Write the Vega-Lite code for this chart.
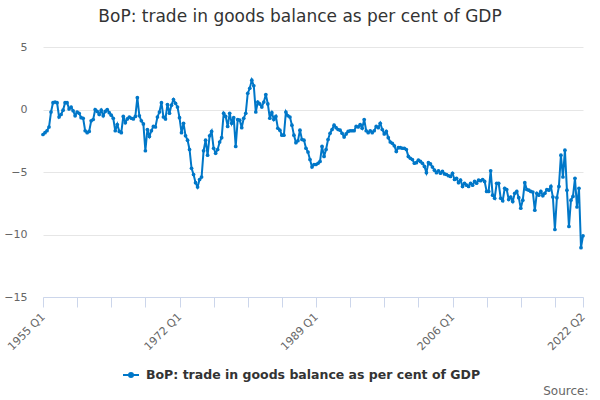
{
  "$schema": "https://vega.github.io/schema/vega-lite/v6.json",
  "width": 540,
  "height": 250,
  "autosize": {"type": "none"},
  "padding": {"left": 43, "top": 47, "right": 17, "bottom": 103},
  "background": "white",
  "config": {"font": "DejaVu Sans", "view": {"stroke": null}},
  "title": {"text": "BoP: trade in goods balance as per cent of GDP", "fontSize": 17, "fontWeight": "normal", "color": "#333333", "anchor": "middle", "dx": -13, "offset": 15},
  "data": {"values": [
    {"p":"1955 Q1","v":-2.0},{"p":"1955 Q2","v":-1.85},{"p":"1955 Q3","v":-1.7},{"p":"1955 Q4","v":-1.4},
    {"p":"1956 Q1","v":-0.2},{"p":"1956 Q2","v":0.55},{"p":"1956 Q3","v":0.6},{"p":"1956 Q4","v":0.55},
    {"p":"1957 Q1","v":-0.6},{"p":"1957 Q2","v":-0.4},{"p":"1957 Q3","v":-0.05},{"p":"1957 Q4","v":0.55},
    {"p":"1958 Q1","v":0.55},{"p":"1958 Q2","v":0.05},{"p":"1958 Q3","v":0.2},{"p":"1958 Q4","v":-0.1},
    {"p":"1959 Q1","v":-0.5},{"p":"1959 Q2","v":-0.2},{"p":"1959 Q3","v":-0.3},{"p":"1959 Q4","v":-0.65},
    {"p":"1960 Q1","v":-0.7},{"p":"1960 Q2","v":-1.7},{"p":"1960 Q3","v":-1.85},{"p":"1960 Q4","v":-1.75},
    {"p":"1961 Q1","v":-0.9},{"p":"1961 Q2","v":-0.8},{"p":"1961 Q3","v":0.0},{"p":"1961 Q4","v":-0.15},
    {"p":"1962 Q1","v":-0.4},{"p":"1962 Q2","v":-0.05},{"p":"1962 Q3","v":-0.5},{"p":"1962 Q4","v":-0.15},
    {"p":"1963 Q1","v":0.0},{"p":"1963 Q2","v":-0.25},{"p":"1963 Q3","v":-0.45},{"p":"1963 Q4","v":-0.7},
    {"p":"1964 Q1","v":-1.7},{"p":"1964 Q2","v":-1.2},{"p":"1964 Q3","v":-1.75},{"p":"1964 Q4","v":-1.85},
    {"p":"1965 Q1","v":-0.55},{"p":"1965 Q2","v":-1.05},{"p":"1965 Q3","v":-0.75},{"p":"1965 Q4","v":-0.6},
    {"p":"1966 Q1","v":-0.7},{"p":"1966 Q2","v":-0.75},{"p":"1966 Q3","v":-0.55},{"p":"1966 Q4","v":0.95},
    {"p":"1967 Q1","v":-0.5},{"p":"1967 Q2","v":-0.9},{"p":"1967 Q3","v":-1.15},{"p":"1967 Q4","v":-3.3},
    {"p":"1968 Q1","v":-1.6},{"p":"1968 Q2","v":-2.15},{"p":"1968 Q3","v":-1.7},{"p":"1968 Q4","v":-1.35},
    {"p":"1969 Q1","v":-1.4},{"p":"1969 Q2","v":-0.6},{"p":"1969 Q3","v":-0.2},{"p":"1969 Q4","v":0.55},
    {"p":"1970 Q1","v":-0.6},{"p":"1970 Q2","v":-0.75},{"p":"1970 Q3","v":0.4},{"p":"1970 Q4","v":-0.3},
    {"p":"1971 Q1","v":0.35},{"p":"1971 Q2","v":0.8},{"p":"1971 Q3","v":0.5},{"p":"1971 Q4","v":0.2},
    {"p":"1972 Q1","v":-0.65},{"p":"1972 Q2","v":-1.85},{"p":"1972 Q3","v":-1.1},{"p":"1972 Q4","v":-2.1},
    {"p":"1973 Q1","v":-2.45},{"p":"1973 Q2","v":-3.2},{"p":"1973 Q3","v":-4.7},{"p":"1973 Q4","v":-5.2},
    {"p":"1974 Q1","v":-5.85},{"p":"1974 Q2","v":-6.2},{"p":"1974 Q3","v":-5.6},{"p":"1974 Q4","v":-5.4},
    {"p":"1975 Q1","v":-3.3},{"p":"1975 Q2","v":-2.45},{"p":"1975 Q3","v":-3.65},{"p":"1975 Q4","v":-2.1},
    {"p":"1976 Q1","v":-1.75},{"p":"1976 Q2","v":-3.1},{"p":"1976 Q3","v":-3.5},{"p":"1976 Q4","v":-3.2},
    {"p":"1977 Q1","v":-2.6},{"p":"1977 Q2","v":-2.25},{"p":"1977 Q3","v":-0.3},{"p":"1977 Q4","v":-0.55},
    {"p":"1978 Q1","v":-1.35},{"p":"1978 Q2","v":-0.3},{"p":"1978 Q3","v":-1.1},{"p":"1978 Q4","v":-0.65},
    {"p":"1979 Q1","v":-2.95},{"p":"1979 Q2","v":-0.8},{"p":"1979 Q3","v":-0.85},{"p":"1979 Q4","v":-1.45},
    {"p":"1980 Q1","v":-0.7},{"p":"1980 Q2","v":-0.3},{"p":"1980 Q3","v":1.3},{"p":"1980 Q4","v":1.7},
    {"p":"1981 Q1","v":2.35},{"p":"1981 Q2","v":1.9},{"p":"1981 Q3","v":-0.2},{"p":"1981 Q4","v":0.6},
    {"p":"1982 Q1","v":0.45},{"p":"1982 Q2","v":0.2},{"p":"1982 Q3","v":0.6},{"p":"1982 Q4","v":1.2},
    {"p":"1983 Q1","v":0.45},{"p":"1983 Q2","v":-0.7},{"p":"1983 Q3","v":-0.25},{"p":"1983 Q4","v":-0.8},
    {"p":"1984 Q1","v":-0.55},{"p":"1984 Q2","v":-1.5},{"p":"1984 Q3","v":-1.65},{"p":"1984 Q4","v":-2.05},
    {"p":"1985 Q1","v":-2.05},{"p":"1985 Q2","v":-0.2},{"p":"1985 Q3","v":-0.5},{"p":"1985 Q4","v":-0.6},
    {"p":"1986 Q1","v":-1.25},{"p":"1986 Q2","v":-2.05},{"p":"1986 Q3","v":-2.65},{"p":"1986 Q4","v":-2.5},
    {"p":"1987 Q1","v":-1.65},{"p":"1987 Q2","v":-2.4},{"p":"1987 Q3","v":-2.45},{"p":"1987 Q4","v":-3.1},
    {"p":"1988 Q1","v":-3.4},{"p":"1988 Q2","v":-4.0},{"p":"1988 Q3","v":-4.6},{"p":"1988 Q4","v":-4.4},
    {"p":"1989 Q1","v":-4.4},{"p":"1989 Q2","v":-4.3},{"p":"1989 Q3","v":-4.15},{"p":"1989 Q4","v":-2.95},
    {"p":"1990 Q1","v":-3.75},{"p":"1990 Q2","v":-3.2},{"p":"1990 Q3","v":-2.4},{"p":"1990 Q4","v":-1.9},
    {"p":"1991 Q1","v":-1.6},{"p":"1991 Q2","v":-1.25},{"p":"1991 Q3","v":-1.45},{"p":"1991 Q4","v":-1.6},
    {"p":"1992 Q1","v":-1.65},{"p":"1992 Q2","v":-1.9},{"p":"1992 Q3","v":-2.2},{"p":"1992 Q4","v":-1.95},
    {"p":"1993 Q1","v":-1.75},{"p":"1993 Q2","v":-1.7},{"p":"1993 Q3","v":-1.7},{"p":"1993 Q4","v":-1.7},
    {"p":"1994 Q1","v":-1.35},{"p":"1994 Q2","v":-1.4},{"p":"1994 Q3","v":-1.2},{"p":"1994 Q4","v":-1.5},
    {"p":"1995 Q1","v":-0.8},{"p":"1995 Q2","v":-1.7},{"p":"1995 Q3","v":-1.85},{"p":"1995 Q4","v":-1.7},
    {"p":"1996 Q1","v":-1.85},{"p":"1996 Q2","v":-1.7},{"p":"1996 Q3","v":-1.35},{"p":"1996 Q4","v":-1.45},
    {"p":"1997 Q1","v":-1.1},{"p":"1997 Q2","v":-1.6},{"p":"1997 Q3","v":-1.95},{"p":"1997 Q4","v":-1.75},
    {"p":"1998 Q1","v":-2.25},{"p":"1998 Q2","v":-2.6},{"p":"1998 Q3","v":-2.7},{"p":"1998 Q4","v":-2.9},
    {"p":"1999 Q1","v":-3.35},{"p":"1999 Q2","v":-3.05},{"p":"1999 Q3","v":-3.05},{"p":"1999 Q4","v":-3.1},
    {"p":"2000 Q1","v":-3.1},{"p":"2000 Q2","v":-3.2},{"p":"2000 Q3","v":-3.75},{"p":"2000 Q4","v":-3.9},
    {"p":"2001 Q1","v":-4.0},{"p":"2001 Q2","v":-4.3},{"p":"2001 Q3","v":-4.25},{"p":"2001 Q4","v":-4.05},
    {"p":"2002 Q1","v":-4.15},{"p":"2002 Q2","v":-4.3},{"p":"2002 Q3","v":-4.55},{"p":"2002 Q4","v":-5.05},
    {"p":"2003 Q1","v":-4.25},{"p":"2003 Q2","v":-4.35},{"p":"2003 Q3","v":-4.6},{"p":"2003 Q4","v":-4.85},
    {"p":"2004 Q1","v":-5.05},{"p":"2004 Q2","v":-4.9},{"p":"2004 Q3","v":-5.1},{"p":"2004 Q4","v":-4.95},
    {"p":"2005 Q1","v":-5.15},{"p":"2005 Q2","v":-5.2},{"p":"2005 Q3","v":-5.3},{"p":"2005 Q4","v":-5.35},
    {"p":"2006 Q1","v":-5.1},{"p":"2006 Q2","v":-5.6},{"p":"2006 Q3","v":-5.5},{"p":"2006 Q4","v":-5.85},
    {"p":"2007 Q1","v":-5.65},{"p":"2007 Q2","v":-6.15},{"p":"2007 Q3","v":-5.9},{"p":"2007 Q4","v":-6.05},
    {"p":"2008 Q1","v":-6.15},{"p":"2008 Q2","v":-5.9},{"p":"2008 Q3","v":-6.05},{"p":"2008 Q4","v":-5.75},
    {"p":"2009 Q1","v":-5.9},{"p":"2009 Q2","v":-5.65},{"p":"2009 Q3","v":-5.7},{"p":"2009 Q4","v":-5.6},
    {"p":"2010 Q1","v":-5.75},{"p":"2010 Q2","v":-6.55},{"p":"2010 Q3","v":-6.55},{"p":"2010 Q4","v":-4.9},
    {"p":"2011 Q1","v":-6.85},{"p":"2011 Q2","v":-7.1},{"p":"2011 Q3","v":-5.9},{"p":"2011 Q4","v":-5.9},
    {"p":"2012 Q1","v":-7.1},{"p":"2012 Q2","v":-7.3},{"p":"2012 Q3","v":-6.3},{"p":"2012 Q4","v":-6.4},
    {"p":"2013 Q1","v":-7.2},{"p":"2013 Q2","v":-7.0},{"p":"2013 Q3","v":-7.35},{"p":"2013 Q4","v":-6.7},
    {"p":"2014 Q1","v":-6.55},{"p":"2014 Q2","v":-7.05},{"p":"2014 Q3","v":-7.9},{"p":"2014 Q4","v":-7.25},
    {"p":"2015 Q1","v":-5.85},{"p":"2015 Q2","v":-6.4},{"p":"2015 Q3","v":-6.45},{"p":"2015 Q4","v":-6.55},
    {"p":"2016 Q1","v":-6.6},{"p":"2016 Q2","v":-8.05},{"p":"2016 Q3","v":-6.7},{"p":"2016 Q4","v":-6.85},
    {"p":"2017 Q1","v":-6.55},{"p":"2017 Q2","v":-6.9},{"p":"2017 Q3","v":-6.7},{"p":"2017 Q4","v":-6.4},
    {"p":"2018 Q1","v":-6.45},{"p":"2018 Q2","v":-6.15},{"p":"2018 Q3","v":-7.0},{"p":"2018 Q4","v":-9.6},
    {"p":"2019 Q1","v":-7.05},{"p":"2019 Q2","v":-6.15},{"p":"2019 Q3","v":-3.65},{"p":"2019 Q4","v":-5.4},
    {"p":"2020 Q1","v":-3.25},{"p":"2020 Q2","v":-6.45},{"p":"2020 Q3","v":-9.35},{"p":"2020 Q4","v":-7.25},
    {"p":"2021 Q1","v":-6.95},{"p":"2021 Q2","v":-5.5},{"p":"2021 Q3","v":-7.8},{"p":"2021 Q4","v":-6.3},
    {"p":"2022 Q1","v":-11.05},{"p":"2022 Q2","v":-10.1}
  ]},
  "mark": {"type": "line", "strokeWidth": 2, "point": {"filled": true, "size": 14}},
  "encoding": {
    "x": {
      "field": "p", "type": "ordinal", "sort": null,
      "scale": {"type": "point", "padding": 0},
      "axis": {
        "values": ["1955 Q1","1959 Q2","1963 Q3","1967 Q4","1972 Q1","1976 Q2","1980 Q3","1984 Q4","1989 Q1","1993 Q2","1997 Q3","2001 Q4","2006 Q1","2010 Q2","2014 Q3","2018 Q4","2022 Q2"],
        "labelExpr": "indexof(['1955 Q1','1972 Q1','1989 Q1','2006 Q1','2022 Q2'], datum.value) >= 0 ? datum.value : ''",
        "labelAngle": -45, "labelAlign": "right", "labelBaseline": "middle",
        "labelFontSize": 11, "labelColor": "#666666", "labelPadding": 8,
        "domainColor": "#ccd6eb", "tickColor": "#ccd6eb", "tickSize": 10, "grid": false,
        "labelOverlap": false,
        "title": "Source:", "titleFontSize": 12, "titleFontWeight": "normal", "titleColor": "#666666",
        "titleAlign": "right", "titleBaseline": "middle", "titleX": 545, "titleY": 93
      }
    },
    "y": {
      "field": "v", "type": "quantitative",
      "scale": {"domain": [-15, 5], "nice": false},
      "axis": {"values": [-15, -10, -5, 0, 5], "title": null, "domain": false, "ticks": false,
        "labelPadding": 16, "labelFontSize": 11, "labelColor": "#666666", "gridColor": "#e6e6e6"}
    },
    "color": {
      "datum": "BoP: trade in goods balance as per cent of GDP",
      "scale": {"range": ["#0077c8"]},
      "legend": {
        "orient": "none", "legendX": 79, "legendY": 319, "direction": "horizontal", "title": null,
        "labelFontSize": 12.5, "labelFontWeight": "bold", "labelColor": "#333333", "labelLimit": 600,
        "labelOffset": 6,
        "symbolType": "M-1,0L1,0M-0.25,0A0.25,0.25,0,1,1,0.25,0A0.25,0.25,0,1,1,-0.25,0",
        "symbolSize": 256, "symbolStrokeWidth": 2
      }
    }
  }
}
